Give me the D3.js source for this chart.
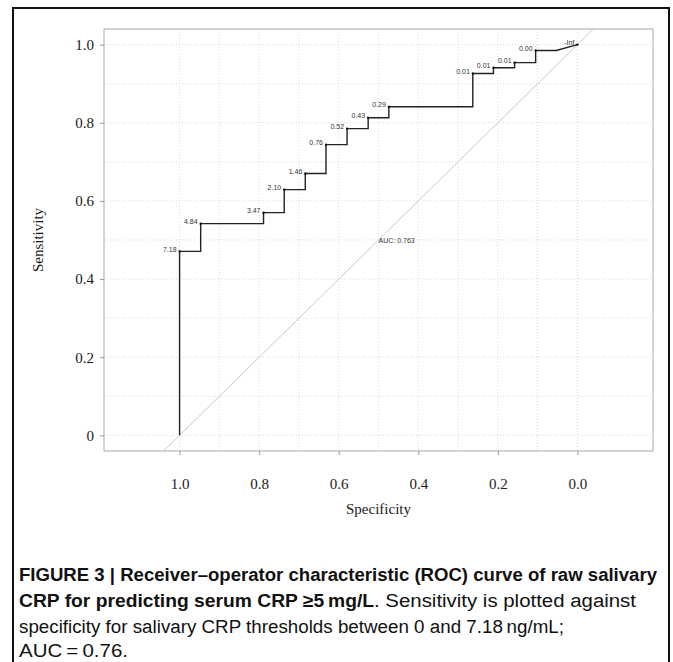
<!DOCTYPE html>
<html lang="en">
<head>
    <meta charset="UTF-8">
    <title>ROC curve salivary CRP</title>
    <script src="https://cdn.jsdelivr.net/npm/d3@7"></script>
    <style>
        body{
            margin: 0;
            background: #ffffff;
        }
        .tick text{
            font-family: "Liberation Serif", "DejaVu Serif", serif;
            font-size: 15px;
            fill: #1a1a1a;
        }
        .tick line{
            stroke: #999;
        }
        .thr{
            font-family: "Liberation Sans", Arial, sans-serif;
            font-size: 7px;
            fill: #333;
        }
        .cap{
            font-family: "Liberation Sans", Arial, sans-serif;
            font-size: 18px;
            fill: #111;
        }
    </style>
</head>
<body>
<svg id="fig" width="673" height="662"></svg>

<script>
    // roc coordinates (specificity, sensitivity)
    const specificity = [1.000, 1.000, 0.947, 0.947, 0.789, 0.789, 0.737, 0.737, 0.684, 0.684,
        0.632, 0.632, 0.579, 0.579, 0.526, 0.526, 0.474, 0.474, 0.263, 0.263,
        0.211, 0.211, 0.158, 0.158, 0.105, 0.105, 0.053, 0.000]
    const sensitivity = [0.000, 0.471, 0.471, 0.542, 0.542, 0.570, 0.570, 0.629, 0.629, 0.670,
        0.670, 0.744, 0.744, 0.785, 0.785, 0.813, 0.813, 0.841, 0.841, 0.926,
        0.926, 0.941, 0.941, 0.954, 0.954, 0.985, 0.985, 1.000]

    // printed thresholds
    const thrLabels = ["7.18", "4.84", "3.47", "2.10", "1.46", "0.76", "0.52", "0.43", "0.29",
        "0.01", "0.01", "0.01", "0.00", "-Inf"]
    const thrSpec = [1.000, 0.947, 0.789, 0.737, 0.684, 0.632, 0.579, 0.526, 0.474,
        0.263, 0.211, 0.158, 0.105, 0.000]
    const thrSens = [0.471, 0.542, 0.570, 0.629, 0.670, 0.744, 0.785, 0.813, 0.841,
        0.926, 0.941, 0.954, 0.985, 1.000]

    const tickValues = [0, 0.2, 0.4, 0.6, 0.8, 1.0]
    const gridValues = [0, 0.1, 0.2, 0.3, 0.4, 0.5, 0.6, 0.7, 0.8, 0.9, 1.0]
    const aucText = "AUC: 0.763"

    let svg = d3.select("#fig")

    // panel box
    let pLeft = 104, pRight = 653, pTop = 29, pBottom = 451

    let x = d3.scaleLinear().domain([1.19, -0.19]).range([pLeft, pRight])
    let y = d3.scaleLinear().domain([-0.04, 1.04]).range([pBottom, pTop])

    // outer figure frame
    svg.append("rect")
        .attr("x", 13).attr("y", 8)
        .attr("width", 656).attr("height", 720)
        .attr("fill", "none")
        .attr("stroke", "#111")
        .attr("stroke-width", 2)

    svg.append("clipPath").attr("id", "clip")
        .append("rect")
        .attr("x", pLeft).attr("y", pTop)
        .attr("width", pRight - pLeft).attr("height", pBottom - pTop)

    // grid (dotted)
    let grid = svg.append("g")
    grid.selectAll(".gv").data(gridValues).join("line")
        .attr("x1", d => x(d)).attr("x2", d => x(d))
        .attr("y1", pTop).attr("y2", pBottom)
        .attr("stroke", "#d9d9d9")
        .attr("stroke-dasharray", "1,2")
    grid.selectAll(".gh").data(gridValues).join("line")
        .attr("y1", d => y(d)).attr("y2", d => y(d))
        .attr("x1", pLeft).attr("x2", pRight)
        .attr("stroke", "#d9d9d9")
        .attr("stroke-dasharray", "1,2")

    // chance line
    svg.append("line")
        .attr("clip-path", "url(#clip)")
        .attr("x1", x(1.2)).attr("y1", y(-0.2))
        .attr("x2", x(-0.2)).attr("y2", y(1.2))
        .attr("stroke", "#c8c8c8")
        .attr("stroke-width", 1)

    // panel border
    svg.append("rect")
        .attr("x", pLeft).attr("y", pTop)
        .attr("width", pRight - pLeft).attr("height", pBottom - pTop)
        .attr("fill", "none")
        .attr("stroke", "#aaa")

    // roc curve
    let line = d3.line()
        .x((d, i) => x(specificity[i]))
        .y((d, i) => y(sensitivity[i]))
    svg.append("path")
        .datum(specificity)
        .attr("d", line)
        .attr("fill", "none")
        .attr("stroke", "#222")
        .attr("stroke-width", 1.4)

    // threshold points and labels
    svg.selectAll(".pt").data(thrLabels).join("rect")
        .attr("x", (d, i) => x(thrSpec[i]) - 1)
        .attr("y", (d, i) => y(thrSens[i]) - 1)
        .attr("width", 2).attr("height", 2)
        .attr("fill", "#000")
    svg.selectAll(".thr").data(thrLabels).join("text")
        .attr("class", "thr")
        .attr("x", (d, i) => x(thrSpec[i]) - 3)
        .attr("y", (d, i) => y(thrSens[i]) + 0.5)
        .attr("text-anchor", "end")
        .text(d => d)

    svg.append("text")
        .attr("class", "thr")
        .attr("x", x(0.5)).attr("y", y(0.5) + 2.5)
        .text(aucText)

    // axes
    let fmt = d => d === 0 ? "0" : d3.format(".1f")(d)
    let yAxis = svg.append("g")
        .attr("transform", `translate(${pLeft},0)`)
        .call(d3.axisLeft(y).tickValues(tickValues).tickFormat(fmt).tickSize(4).tickPadding(6))
    yAxis.select(".domain").remove()

    let xAxis = svg.append("g")
        .attr("transform", `translate(0,${pBottom})`)
        .call(d3.axisBottom(x).tickValues(tickValues).tickFormat(d3.format(".1f")).tickSize(4).tickPadding(23))
    xAxis.select(".domain").remove()

    svg.append("text")
        .attr("x", (pLeft + pRight) / 2).attr("y", 514)
        .attr("text-anchor", "middle")
        .style("font-family", "'Liberation Serif', serif")
        .style("font-size", "15px")
        .attr("fill", "#1a1a1a")
        .text("Specificity")

    svg.append("text")
        .attr("transform", `translate(43,${(pTop + pBottom) / 2}) rotate(-90)`)
        .attr("text-anchor", "middle")
        .style("font-family", "'Liberation Serif', serif")
        .style("font-size", "15px")
        .attr("fill", "#1a1a1a")
        .text("Sensitivity")

    // caption
    function capText(str, xs, ys, len, bold){
        svg.append("text")
            .attr("class", "cap")
            .attr("x", xs).attr("y", ys)
            .attr("textLength", len)
            .attr("lengthAdjust", "spacingAndGlyphs")
            .style("font-weight", bold ? "bold" : "normal")
            .text(str)
    }
    capText("FIGURE 3 | Receiver\u2013operator characteristic (ROC) curve of raw salivary", 19, 581, 638, true)
    capText("CRP for predicting serum CRP \u22655\u2009mg/L", 19, 607, 355, true)
    capText(". Sensitivity is plotted against", 374, 607, 262, false)
    capText("specificity for salivary CRP thresholds between 0 and 7.18\u2009ng/mL;", 19, 633, 545, false)
    capText("AUC\u2009=\u20090.76.", 19, 657, 109, false)
</script>
</body>
</html>
